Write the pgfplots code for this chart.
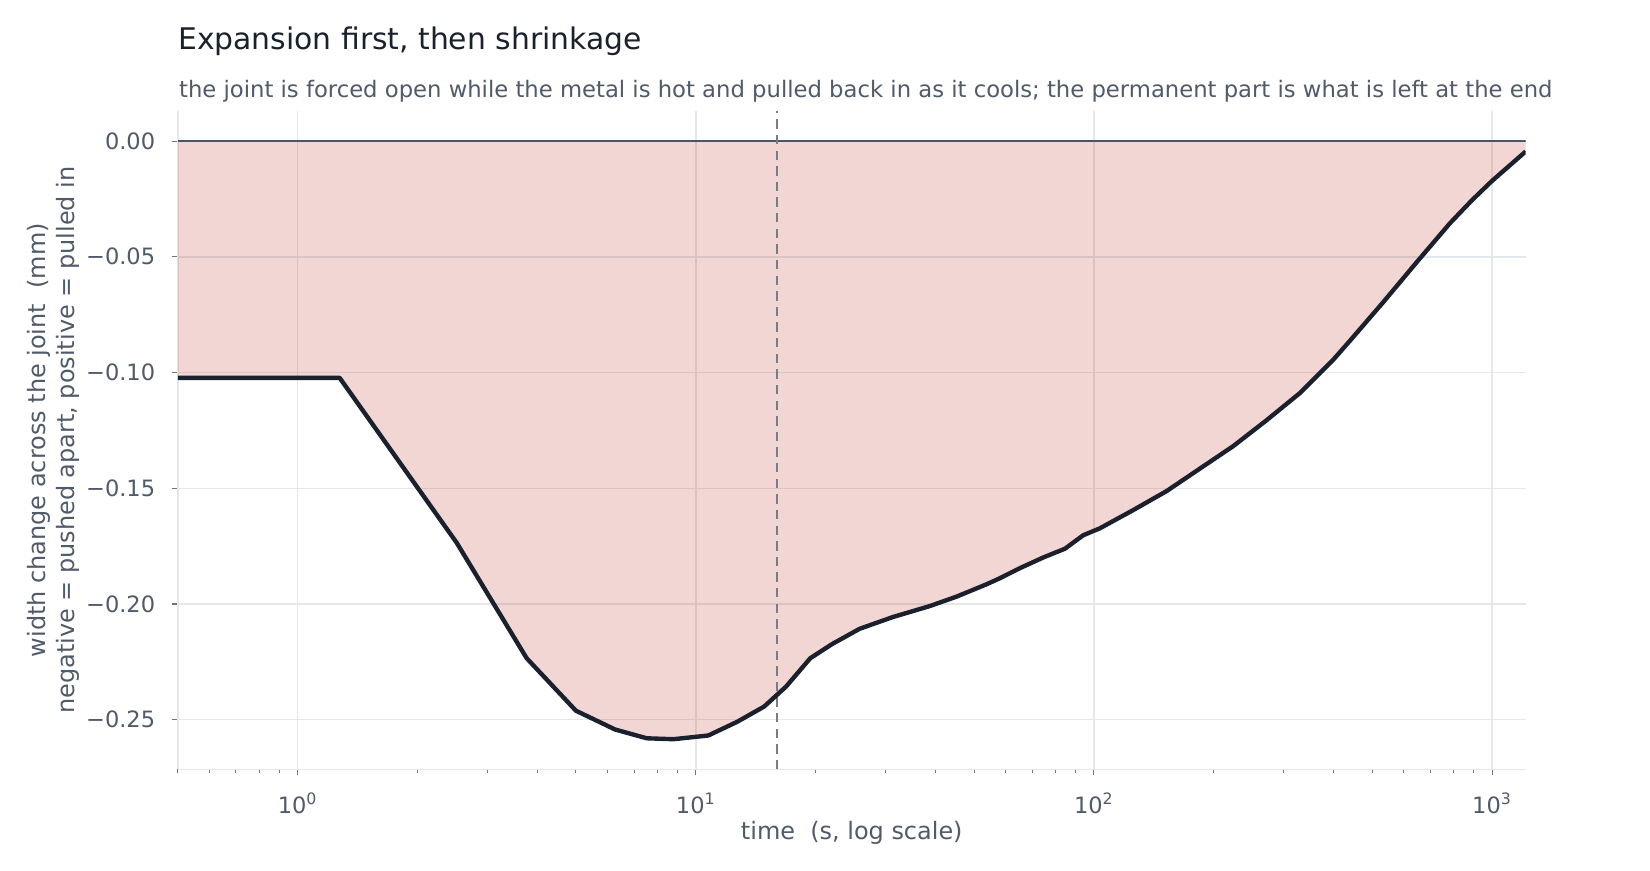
\documentclass[border=0pt]{standalone}
\usepackage{fontspec}
\setmainfont{DejaVu Sans}
\usepackage{pgfplots}
\usepackage{pgfplotstable}
\pgfplotsset{compat=1.18}
\usepgfplotslibrary{fillbetween}

\definecolor{inkc}{RGB}{26,32,44}
\definecolor{labc}{RGB}{80,90,105}
\definecolor{gridc}{RGB}{228,231,236}
\definecolor{tickc}{RGB}{110,118,130}
\definecolor{zeroc}{RGB}{74,85,104}
\definecolor{dashc}{RGB}{120,124,134}
\definecolor{fillc}{RGB}{185,50,35}

\newcommand{\dec}[1]{10\textsuperscript{#1}}

% time (s), width change (mm)
\pgfplotstableread{
t      w
0.5    -0.1023
1.275  -0.1023
2.51   -0.1736
3.76   -0.2234
5.0    -0.2461
6.27   -0.2542
7.53   -0.2580
8.78   -0.2584
10.75  -0.2568
12.7   -0.2509
14.85  -0.2443
16.85  -0.2357
19.4   -0.2234
22.0   -0.2173
25.8   -0.2107
31.3   -0.2056
38.7   -0.2009
45.2   -0.1968
53.7   -0.1915
58.0   -0.1889
65.2   -0.1845
74.6   -0.1799
84.6   -0.1761
94.0   -0.1703
103.5  -0.1673
125.6  -0.1594
152.3  -0.1512
184.6  -0.1415
223.8  -0.1318
271.5  -0.1206
329.5  -0.1088
399.6  -0.0944
440    -0.0862
533    -0.0696
647    -0.0523
784    -0.0355
890    -0.0256
1000   -0.0172
1215   -0.0045
}\curve

\begin{document}
\begin{tikzpicture}
\path (0,0) rectangle (792pt,-417.6pt);
\node[anchor=base west, inner sep=0pt, text=inkc, font=\fontsize{14.3}{17}\selectfont]
  at (85.4pt,-23.76pt) {Expansion first, then shrinkage};
\node[anchor=base west, inner sep=0pt, text=labc, font=\fontsize{10.9}{13}\selectfont]
  at (85.8pt,-47pt) {the joint is forced open while the metal is hot and pulled back in as it cools; the permanent part is what is left at the end};
\begin{axis}[
  at={(85.34pt,-369.26pt)}, anchor=south west,
  scale only axis, width=647pt, height=315.9pt,
  xmode=log, xmin=0.5, xmax=1215,
  ymin=-0.2714, ymax=0.0129,
  axis x line*=bottom, axis y line*=left,
  axis line style={draw=gridc, line width=0.7pt},
  tick align=outside,
  major tick length=2.9pt, minor tick length=1.9pt,
  tick style={draw=tickc, line width=0.5pt},
  grid=major,
  major grid style={draw=gridc, line width=0.7pt},
  xtick={1,10,100,1000},
  xticklabels={\dec{0},\dec{1},\dec{2},\dec{3}},
  minor xtick={0.5,0.6,0.7,0.8,0.9,2,3,4,5,6,7,8,9,20,30,40,50,60,70,80,90,200,300,400,500,600,700,800,900},
  ytick={-0.25,-0.2,-0.15,-0.1,-0.05,0},
  yticklabels={−0.25,−0.20,−0.15,−0.10,−0.05,0.00},
  tick label style={font=\fontsize{10.8}{13}\selectfont, text=labc},
  xticklabel style={anchor=base, inner sep=0pt, yshift=-18.1pt},
  yticklabel style={anchor=east, inner sep=0pt, xshift=-7.8pt},
  label style={font=\fontsize{11.5}{13.9}\selectfont, text=labc},
  xlabel={time\ \ (s, log scale)},
  xlabel style={at={(rel axis cs:0.5,-0.1063)}, anchor=base, inner sep=0pt},
  ylabel={width change across the joint\ \ (mm)\\negative = pushed apart, positive = pulled in},
  ylabel style={at={(rel axis cs:-0.0926,0.5)}, anchor=center, align=center, inner sep=0pt},
]
\addplot[name path=curve, draw=none, forget plot] table[x=t, y=w] {\curve};
\addplot[name path=zero, draw=none, forget plot] coordinates {(0.5,0) (1215,0)};
\addplot[fill=fillc, fill opacity=0.2, draw=none] fill between[of=curve and zero];
\addplot[draw=zeroc, line width=1.1pt] coordinates {(0.5,0) (1215,0)};
\addplot[draw=dashc, line width=0.6pt, dash pattern=on 4.5pt off 3pt] coordinates {(16,-0.2714) (16,0.0129)};
\addplot[draw=inkc, line width=2.1pt, line join=round] table[x=t, y=w] {\curve};
\end{axis}
\end{tikzpicture}
\end{document}
